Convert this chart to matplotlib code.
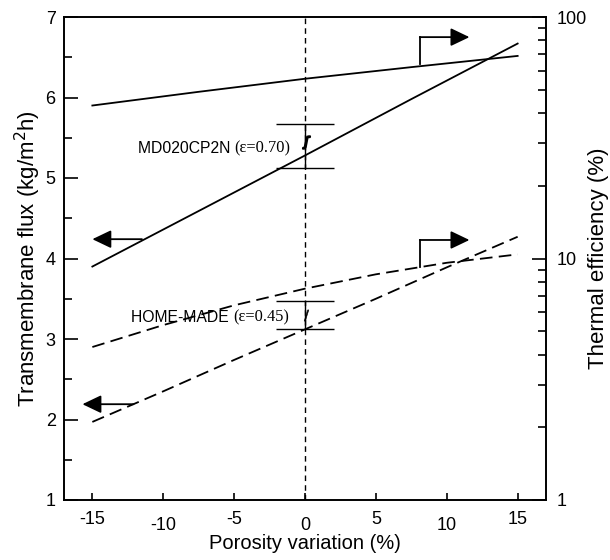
import numpy as np
import matplotlib
matplotlib.use("Agg")
import matplotlib.pyplot as plt
from matplotlib.ticker import FixedLocator, NullFormatter, FuncFormatter

# ---- data ----
porosity = [-15, -7.5, 0, 7.5, 15]
flux_md = [3.90, 4.59, 5.28, 5.98, 6.67]   # solid, left axis
eff_md = [43, 49, 55.5, 62, 69]            # solid, right axis (log)

porosity_hm = [-15, -10, -5, 0, 5, 10, 15]
flux_hm = [1.97, 2.35, 2.74, 3.12, 3.50, 3.89, 4.27]   # dashed, left axis
eff_hm = [4.3, 5.3, 6.4, 7.5, 8.6, 9.6, 10.4]          # dashed, right axis (log)

# measured points at 0 % variation (mean and error)
meas_x = [0, 0]
meas_flux = [5.40, 3.30]
meas_err = [0.27, 0.17]

xticks = [-15, -10, -5, 0, 5, 10, 15]

plt.rcParams['font.family'] = ['Liberation Sans', 'DejaVu Sans']

fig = plt.figure(figsize=(6.1, 5.6), dpi=100)
ax = fig.add_axes([64/610, 1 - 500/560, (546 - 64)/610, (500 - 17)/560])
ax2 = ax.twinx()

dash = (0, (7, 3.5))

# left axis lines
ax.plot(porosity, flux_md, color='k', lw=1.3)
ax.plot(porosity_hm, flux_hm, color='k', lw=1.3, ls=dash)

# right axis lines
ax2.plot(porosity, eff_md, color='k', lw=1.3)
ax2.plot(porosity_hm, eff_hm, color='k', lw=1.3, ls=dash)

# vertical reference line and measured points
ax.axvline(0, color='k', lw=1.0, ls=(0, (4, 3)))
ax.errorbar(meas_x[0], meas_flux[0], yerr=meas_err[0], fmt='none', ecolor='k',
            elinewidth=1.0, capsize=21, capthick=1.0)
ax.errorbar(meas_x[1], meas_flux[1], yerr=meas_err[1], fmt='none', ecolor='k',
            elinewidth=1.0, capsize=21, capthick=1.0)
ax.plot(meas_x[0] + 0.1, meas_flux[0] + 0.05, marker='$ʃ$', ms=9, color='k', mew=1.4)
ax.plot(meas_x[1] + 0.1, meas_flux[1], marker='$/$', ms=8, color='k', mew=0.4)

# arrows pointing to the axis each line belongs to
head = dict(arrowstyle='-|>,head_length=1.15,head_width=0.55', color='k', lw=1.3,
            shrinkA=0, shrinkB=0, mutation_scale=10)
ax.annotate('', xy=(-15.0, 4.24), xytext=(-11.5, 4.24), arrowprops=head)
ax.annotate('', xy=(-15.7, 2.19), xytext=(-12.1, 2.19), arrowprops=head)
ax.plot([8.1, 8.1], [6.42, 6.75], color='k', lw=1.3)
ax.annotate('', xy=(11.6, 6.75), xytext=(8.1, 6.75), arrowprops=head)
ax.plot([8.1, 8.1], [3.89, 4.23], color='k', lw=1.3)
ax.annotate('', xy=(11.6, 4.23), xytext=(8.1, 4.23), arrowprops=head)

# labels of the two membranes
t1 = ax.text(-11.8, 5.37, 'MD020CP2N ', fontsize=11.3, va='center', ha='left')
ax.annotate('(ε=0.70)', xy=(1, 0.5), xycoords=t1, va='center', ha='left',
            fontsize=11.8, family=['Liberation Serif', 'DejaVu Serif'])
t2 = ax.text(-12.3, 3.27, 'HOME-MADE ', fontsize=11.3, va='center', ha='left')
ax.annotate('(ε=0.45)', xy=(1, 0.5), xycoords=t2, va='center', ha='left',
            fontsize=11.8, family=['Liberation Serif', 'DejaVu Serif'])

# axes limits and ticks
ax.set_xlim(-17, 17)
ax.set_ylim(1, 7)
ax2.set_yscale('log')
ax2.set_ylim(1, 100)

ax.set_xticks(xticks)
ax.set_xticklabels([str(v) for v in xticks])
ax.set_yticks(range(1, 8))
ax.yaxis.set_minor_locator(FixedLocator(np.arange(1.5, 7, 1.0)))
ax.tick_params(axis='y', which='major', direction='in', length=10, width=1.2,
               labelsize=13, pad=6, right=False)
ax.tick_params(axis='y', which='minor', direction='in', length=6, width=1.2, right=False)
ax.tick_params(axis='x', which='major', direction='in', length=5, width=1.2,
               labelsize=13, top=False)
for i, tk in enumerate(ax.xaxis.get_major_ticks()):
    tk.set_pad(8 if i % 2 == 0 else 12.5)

ax2.yaxis.set_major_locator(FixedLocator([1, 10, 100]))
ax2.yaxis.set_major_formatter(FuncFormatter(lambda v, p: f"{v:g}"))
ax2.yaxis.set_minor_locator(FixedLocator([v * d for d in (1, 10) for v in range(2, 10)]))
ax2.yaxis.set_minor_formatter(NullFormatter())
ax2.tick_params(axis='y', which='major', direction='in', length=10, width=1.2,
                labelsize=13, pad=8)
ax2.tick_params(axis='y', which='minor', direction='in', length=6, width=1.2)

for a in (ax, ax2):
    for s in a.spines.values():
        s.set_linewidth(1.2)

ax.set_xlabel('Porosity variation (%)', fontsize=14.5, labelpad=0)
ax.set_ylabel('Transmembrane flux (kg/m$^2$h)', fontsize=16, labelpad=2)
ax2.set_ylabel('Thermal efficiency (%)', fontsize=16)
ax2.yaxis.set_label_coords((588 - 64) / 482, 0.5)

fig.savefig('out.png', dpi=100)
